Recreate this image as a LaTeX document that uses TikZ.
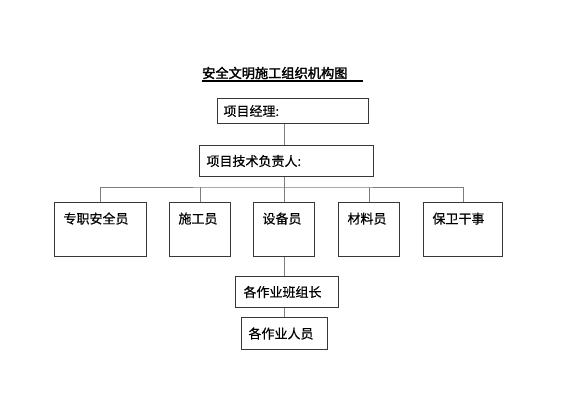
\documentclass[tikz,border=0pt]{standalone}
\usepackage{fontspec}
\usepackage{tikz}
\newfontfamily\cjk[FakeBold=0.5]{Noto Sans CJK SC}
\newfontfamily\cjkbold[FakeBold=2]{Noto Sans CJK SC}
\definecolor{frame}{RGB}{55, 55, 55}
\definecolor{wire}{RGB}{125, 125, 125}

\begin{document}
\begin{tikzpicture}[x=1pt, y=1pt,
  box/.style={draw=frame, line width=1pt, anchor=north west, inner xsep=6pt, inner ysep=0pt,
    align=left, font=\cjk\fontsize{13}{15}\selectfont},
  post/.style={box, inner xsep=9pt, text height=21pt, text depth=33pt},
  wire/.style={draw=wire, line width=0.8pt}]
  \useasboundingbox (0,0) rectangle (566,-400);

  \node[font=\cjkbold\fontsize{13.2}{16}\selectfont, anchor=west, inner sep=0pt] (title) at (202,-73) {安全文明施工组织机构图};
  \draw[line width=1.2pt] (202,-81) -- (363,-81);

  \node[box, text width=139pt, minimum height=25pt] (manager) at (217,-98) {项目经理:};
  \node[box, inner xsep=7pt, text width=160pt, minimum height=31pt] (tech) at (199,-145) {项目技术负责人:};

  \node[post, text width=74pt] (safety) at (54,-202) {专职安全员};
  \node[post, text width=43pt] (builder) at (169,-202) {施工员};
  \node[post, text width=43pt] (equip) at (253,-202) {设备员};
  \node[post, text width=43pt] (material) at (338,-202) {材料员};
  \node[post, text width=61pt] (guard) at (423,-202) {保卫干事};

  \node[box, inner xsep=8pt, text width=87pt, minimum height=31pt] (leader) at (235,-276) {各作业班组长};
  \node[box, inner xsep=7pt, text width=72pt, minimum height=32pt] (worker) at (241,-317) {各作业人员};

  \coordinate (bus) at (284,-187);

  \draw[wire] (manager.south -| bus) -- (tech.north -| bus);
  \draw[wire] (tech.south -| bus) -- (bus);
  \draw[wire] (safety.north) |- (bus) -| (guard.north);
  \foreach \n in {builder, equip, material}
    \draw[wire] (\n.north) -- (\n.north |- bus);

  \draw[wire] (equip.south -| bus) -- (leader.north -| bus);
  \draw[wire] (leader.south -| bus) -- (worker.north -| bus);

\end{tikzpicture}
\end{document}
